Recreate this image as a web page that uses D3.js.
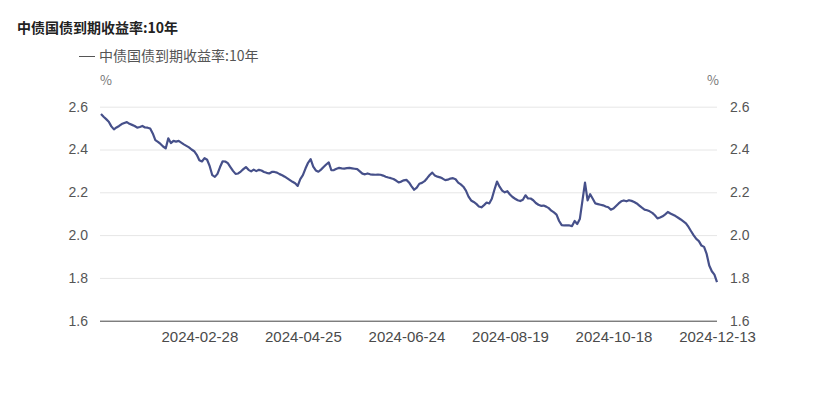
<!DOCTYPE html>
<html>
<meta charset="utf-8">
<style>
    body {
        margin: 0;
        background: #fff;
        font-family: "Noto Sans CJK SC", "Noto Sans", sans-serif;
    }
    .tick text {
        fill: #555;
        font-size: 14px;
    }
    .x-axis .tick text {
        font-size: 15px;
        fill: #4a4a4a;
    }
    .grid line {
        stroke: #e6e6e6;
    }
</style>
<body>
<script src="https://d3js.org/d3.v7.min.js"></script>
<script>

    var title = "中债国债到期收益率:10年";
    var seriesName = "中债国债到期收益率:10年";

    // one value per trading day, 2024-01-02 .. 2024-12-13
    var yields = [
        2.566, 2.553, 2.542, 2.530, 2.508, 2.494, 2.503, 2.510, 2.519, 2.524,
        2.528, 2.520, 2.515, 2.510, 2.502, 2.505, 2.510, 2.503, 2.502, 2.498,
        2.475, 2.444, 2.436, 2.426, 2.414, 2.405, 2.452, 2.430, 2.440, 2.437,
        2.440, 2.432, 2.424, 2.417, 2.410, 2.400, 2.392, 2.375, 2.350, 2.344,
        2.360, 2.352, 2.322, 2.280, 2.272, 2.286, 2.318, 2.345, 2.344, 2.336,
        2.318, 2.300, 2.286, 2.288, 2.297, 2.308, 2.318, 2.305, 2.298, 2.306,
        2.299, 2.305, 2.302, 2.295, 2.291, 2.288, 2.295, 2.295, 2.292, 2.285,
        2.280, 2.273, 2.265, 2.257, 2.249, 2.242, 2.230, 2.262, 2.280, 2.311,
        2.338, 2.355, 2.320, 2.302, 2.296, 2.306, 2.318, 2.330, 2.340, 2.303,
        2.304, 2.310, 2.314, 2.312, 2.311, 2.313, 2.314, 2.312, 2.310, 2.308,
        2.298, 2.287, 2.284, 2.288, 2.284, 2.283, 2.282, 2.283, 2.282, 2.278,
        2.273, 2.269, 2.266, 2.262, 2.255, 2.246, 2.250, 2.256, 2.258, 2.246,
        2.228, 2.212, 2.222, 2.240, 2.244, 2.252, 2.266, 2.281, 2.292, 2.278,
        2.273, 2.270, 2.264, 2.257, 2.259, 2.264, 2.266, 2.261, 2.245, 2.237,
        2.226, 2.208, 2.180, 2.162, 2.155, 2.146, 2.134, 2.130, 2.140, 2.152,
        2.148, 2.170, 2.212, 2.250, 2.226, 2.208, 2.200, 2.205, 2.190, 2.178,
        2.170, 2.163, 2.159, 2.165, 2.186, 2.171, 2.171, 2.163, 2.150, 2.142,
        2.137, 2.138, 2.133, 2.126, 2.114, 2.106, 2.096, 2.066, 2.047, 2.045,
        2.045, 2.045, 2.042, 2.066, 2.052, 2.075, 2.160, 2.245, 2.162, 2.191,
        2.170, 2.148, 2.145, 2.142, 2.139, 2.134, 2.130, 2.119, 2.124, 2.136,
        2.148, 2.158, 2.162, 2.158, 2.163, 2.160, 2.155, 2.148, 2.138, 2.128,
        2.119, 2.116, 2.111, 2.104, 2.093, 2.078, 2.082, 2.088, 2.097, 2.108,
        2.101, 2.095, 2.089, 2.081, 2.073, 2.064, 2.055, 2.038, 2.018, 1.999,
        1.982, 1.972, 1.951, 1.945, 1.912, 1.858, 1.831, 1.815, 1.780
    ];

    // date labels shown on the x axis, one every 40 trading days counted back from the last
    var xLabels = ["2024-02-28", "2024-04-25", "2024-06-24", "2024-08-19", "2024-10-18", "2024-12-13"];
    var yTicks = [1.6, 1.8, 2.0, 2.2, 2.4, 2.6];

    var W = 817, H = 398;
    var margin = {top: 106.7, right: 100, bottom: 77.3, left: 100};
    var width = W - margin.left - margin.right,
        height = H - margin.top - margin.bottom;

    var svg = d3.select("body")
        .append("svg")
        .attr("width", W)
        .attr("height", H);

    svg.append("text")
        .attr("x", 17)
        .attr("y", 33)
        .style("font-size", "14px")
        .style("font-weight", "bold")
        .style("fill", "#222")
        .text(title);

    // legend
    svg.append("line")
        .attr("x1", 79).attr("x2", 95)
        .attr("y1", 56.5).attr("y2", 56.5)
        .attr("stroke", "#555")
        .attr("stroke-width", 1);
    svg.append("text")
        .attr("x", 99)
        .attr("y", 61)
        .style("font-size", "14px")
        .style("fill", "#555")
        .text(seriesName);

    var g = svg.append("g")
        .attr("transform", "translate(" + margin.left + "," + margin.top + ")");

    var x = d3.scaleLinear()
        .domain([0, yields.length - 1])
        .range([1, width]);

    var y = d3.scaleLinear()
        .domain([1.6, 2.6])
        .range([height, 0]);

    // unit labels
    g.append("text")
        .attr("x", 0)
        .attr("y", -22)
        .style("font-size", "13px")
        .style("fill", "#777")
        .text("%");
    g.append("text")
        .attr("x", width + 2)
        .attr("y", -22)
        .attr("text-anchor", "end")
        .style("font-size", "13px")
        .style("fill", "#777")
        .text("%");

    g.append("g")
        .attr("class", "grid")
        .call(d3.axisLeft(y).tickValues(yTicks.slice(1)).tickSize(-width).tickFormat(""))
        .call(function(s) { s.select(".domain").remove(); });

    g.append("g")
        .call(d3.axisLeft(y).tickValues(yTicks).tickSize(0).tickPadding(12).tickFormat(d3.format(".1f")))
        .call(function(s) { s.select(".domain").remove(); });

    g.append("g")
        .attr("transform", "translate(" + width + ",0)")
        .call(d3.axisRight(y).tickValues(yTicks).tickSize(0).tickPadding(13).tickFormat(d3.format(".1f")))
        .call(function(s) { s.select(".domain").remove(); });

    var last = yields.length - 1;
    var xTickIdx = xLabels.map(function(d, i) { return last - (xLabels.length - 1 - i) * 40; });

    g.append("g")
        .attr("class", "x-axis")
        .attr("transform", "translate(0," + height + ")")
        .call(d3.axisBottom(x).tickValues(xTickIdx).tickSize(0).tickSizeOuter(0).tickPadding(11)
            .tickFormat(function(d) { return xLabels[xTickIdx.indexOf(d)]; }))
        .call(function(s) {
            s.select(".domain").attr("stroke", "#444").attr("d", "M0,0.5H" + width);
        });

    var line = d3.line()
        .x(function(d, i) { return x(i); })
        .y(function(d) { return y(d); });

    g.append("path")
        .datum(yields)
        .attr("fill", "none")
        .attr("stroke", "#46508a")
        .attr("stroke-width", 2.2)
        .attr("stroke-linejoin", "round")
        .attr("d", line);

</script>
</body>
</html>
